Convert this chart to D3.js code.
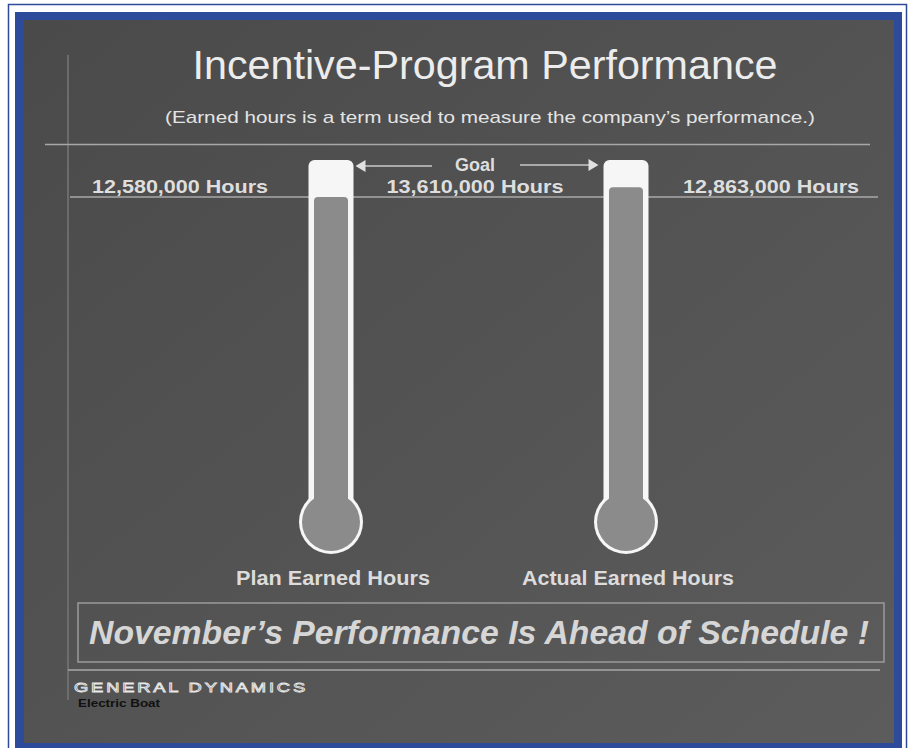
<!DOCTYPE html>
<html>
<head>
<meta charset="utf-8">
<script src="https://cdn.jsdelivr.net/npm/d3@7"></script>
<style>
  html, body { margin: 0; padding: 0; background: #fff; }
  svg { display: block; }
  text { font-family: "Liberation Sans Narrow", "Arial Narrow", "Liberation Sans", Arial, sans-serif; }
</style>
</head>
<body>
<div id="chart"></div>
<script>
// data
var thermometers = ["Plan Earned Hours", "Actual Earned Hours"];
var earnedHours = [12580000, 12863000];
var goalHours = 13610000;
var scaleFloor = 3000000;

var width = 909, height = 748;
var fmt = d3.format(",");

var svg = d3.select("#chart").append("svg")
    .attr("width", width)
    .attr("height", height);

var defs = svg.append("defs");
var grad = defs.append("linearGradient")
    .attr("id", "bg")
    .attr("x1", "0").attr("y1", "0").attr("x2", "1").attr("y2", "1");
grad.append("stop").attr("offset", "0").attr("stop-color", "#4a4a4a");
grad.append("stop").attr("offset", "1").attr("stop-color", "#5c5c5c");

// frame
svg.append("rect")
    .attr("x", 8.5).attr("y", 4.5).attr("width", 898).attr("height", 750)
    .attr("fill", "none").attr("stroke", "#2e4b9b").attr("stroke-width", 1.5);
svg.append("rect")
    .attr("x", 15).attr("y", 12).attr("width", 887).attr("height", 740)
    .attr("fill", "#2e4b9b");
svg.append("rect")
    .attr("x", 24).attr("y", 20).attr("width", 870).attr("height", 723)
    .attr("fill", "url(#bg)");

var lineColor = "#a8a8a8";

// decorative rules
svg.append("line").attr("x1", 68).attr("x2", 68).attr("y1", 55).attr("y2", 700)
    .attr("stroke", "#767676").attr("stroke-width", 1.5);
svg.append("line").attr("x1", 45).attr("x2", 870).attr("y1", 144.5).attr("y2", 144.5)
    .attr("stroke", lineColor).attr("stroke-width", 1.5);
svg.append("line").attr("x1", 68).attr("x2", 880).attr("y1", 670).attr("y2", 670)
    .attr("stroke", lineColor).attr("stroke-width", 1.5);

// titles
svg.append("text")
    .attr("x", 485).attr("y", 79)
    .attr("text-anchor", "middle")
    .attr("font-size", 41)
    .attr("fill", "#ececec")
    .attr("textLength", 585).attr("lengthAdjust", "spacingAndGlyphs")
    .text("Incentive-Program Performance");

svg.append("text")
    .attr("x", 490).attr("y", 123)
    .attr("text-anchor", "middle")
    .attr("font-size", 17)
    .attr("fill", "#e4e4e4")
    .attr("textLength", 650).attr("lengthAdjust", "spacingAndGlyphs")
    .text("(Earned hours is a term used to measure the company\u2019s performance.)");

// scales
var x = d3.scalePoint()
    .domain(thermometers)
    .range([331, 626]);

var y = d3.scaleLinear()
    .domain([scaleFloor, goalHours])
    .range([522, 162]);

var tubeHalf = 22.5, innerHalf = 17, bulbR = 32;

// plan level rule
svg.append("line")
    .attr("x1", 70).attr("x2", 878)
    .attr("y1", y(earnedHours[0])).attr("y2", y(earnedHours[0]))
    .attr("stroke", lineColor).attr("stroke-width", 1.5);

var thermo = svg.selectAll("g.thermo")
    .data(thermometers.map(function (d, i) { return { name: d, value: earnedHours[i] }; }))
    .enter().append("g")
    .attr("class", "thermo");

// white glass
thermo.append("rect")
    .attr("x", function (d) { return x(d.name) - tubeHalf; })
    .attr("y", y(goalHours) - 2)
    .attr("width", tubeHalf * 2)
    .attr("height", y(scaleFloor) - y(goalHours))
    .attr("rx", 6)
    .attr("fill", "#f6f6f6");
thermo.append("circle")
    .attr("cx", function (d) { return x(d.name); })
    .attr("cy", y(scaleFloor))
    .attr("r", bulbR)
    .attr("fill", "#f6f6f6");

// mercury
thermo.append("circle")
    .attr("cx", function (d) { return x(d.name); })
    .attr("cy", y(scaleFloor))
    .attr("r", bulbR - 3)
    .attr("fill", "#8b8b8b");
thermo.append("rect")
    .attr("x", function (d) { return x(d.name) - innerHalf; })
    .attr("y", function (d) { return y(d.value); })
    .attr("width", innerHalf * 2)
    .attr("height", function (d) { return y(scaleFloor) - y(d.value); })
    .attr("rx", 4)
    .attr("fill", "#8b8b8b");

// names under bulbs
thermo.append("text")
    .attr("x", function (d) { return x(d.name) + 2; })
    .attr("y", 585)
    .attr("text-anchor", "middle")
    .attr("font-size", 20)
    .attr("font-weight", "bold")
    .attr("fill", "#dcdcdc")
    .attr("textLength", function (d, i) { return i === 0 ? 194 : 212; })
    .attr("lengthAdjust", "spacingAndGlyphs")
    .text(function (d) { return d.name; });

// value labels
var labelX = [180, 771];
earnedHours.forEach(function (v, i) {
    svg.append("text")
        .attr("x", labelX[i]).attr("y", 193)
        .attr("text-anchor", "middle")
        .attr("font-size", 18)
        .attr("font-weight", "bold")
        .attr("fill", "#dedede")
        .attr("textLength", 176).attr("lengthAdjust", "spacingAndGlyphs")
        .text(fmt(v) + " Hours");
});

// goal label with arrows
var goalX = 475;
svg.append("text")
    .attr("x", goalX).attr("y", 171)
    .attr("text-anchor", "middle")
    .attr("font-size", 18)
    .attr("font-weight", "bold")
    .attr("fill", "#dedede")
    .text("Goal");
svg.append("text")
    .attr("x", goalX).attr("y", 193)
    .attr("text-anchor", "middle")
    .attr("font-size", 18)
    .attr("font-weight", "bold")
    .attr("fill", "#dedede")
    .attr("textLength", 177).attr("lengthAdjust", "spacingAndGlyphs")
    .text(fmt(goalHours) + " Hours");

var arrowY = y(goalHours) + 4;
var leftTip = x(thermometers[0]) + tubeHalf + 2;
var rightTip = x(thermometers[1]) - tubeHalf - 5;
svg.append("line").attr("x1", leftTip + 8).attr("x2", 432)
    .attr("y1", arrowY).attr("y2", arrowY)
    .attr("stroke", "#c8c8c8").attr("stroke-width", 1.5);
svg.append("path")
    .attr("d", "M" + leftTip + "," + arrowY + "l10,-6v12z")
    .attr("fill", "#e0e0e0");
svg.append("line").attr("x1", 520).attr("x2", rightTip - 8)
    .attr("y1", arrowY - 1).attr("y2", arrowY - 1)
    .attr("stroke", "#c8c8c8").attr("stroke-width", 1.5);
svg.append("path")
    .attr("d", "M" + rightTip + "," + (arrowY - 1) + "l-10,-6v12z")
    .attr("fill", "#e0e0e0");

// headline box
svg.append("rect")
    .attr("x", 78).attr("y", 603).attr("width", 806).attr("height", 59)
    .attr("fill", "none").attr("stroke", "#9a9a9a").attr("stroke-width", 1.5);
svg.append("text")
    .attr("x", 89).attr("y", 644)
    .attr("font-size", 33)
    .attr("font-weight", "bold")
    .attr("font-style", "italic")
    .attr("fill", "#d6d6d6")
    .attr("textLength", 780).attr("lengthAdjust", "spacingAndGlyphs")
    .text("November\u2019s Performance Is Ahead of Schedule !");

// logo
svg.append("text")
    .attr("x", 74).attr("y", 692)
    .attr("font-size", 13)
    .attr("fill", "#4a4a4a")
    .attr("stroke", "#e8e8e8").attr("stroke-width", 0.8)
    .attr("letter-spacing", 2)
    .attr("textLength", 234).attr("lengthAdjust", "spacingAndGlyphs")
    .text("GENERAL DYNAMICS");
svg.append("text")
    .attr("x", 78).attr("y", 707)
    .attr("font-size", 11)
    .attr("font-weight", "bold")
    .attr("fill", "#111")
    .attr("textLength", 82).attr("lengthAdjust", "spacingAndGlyphs")
    .text("Electric Boat");
</script>
</body>
</html>
